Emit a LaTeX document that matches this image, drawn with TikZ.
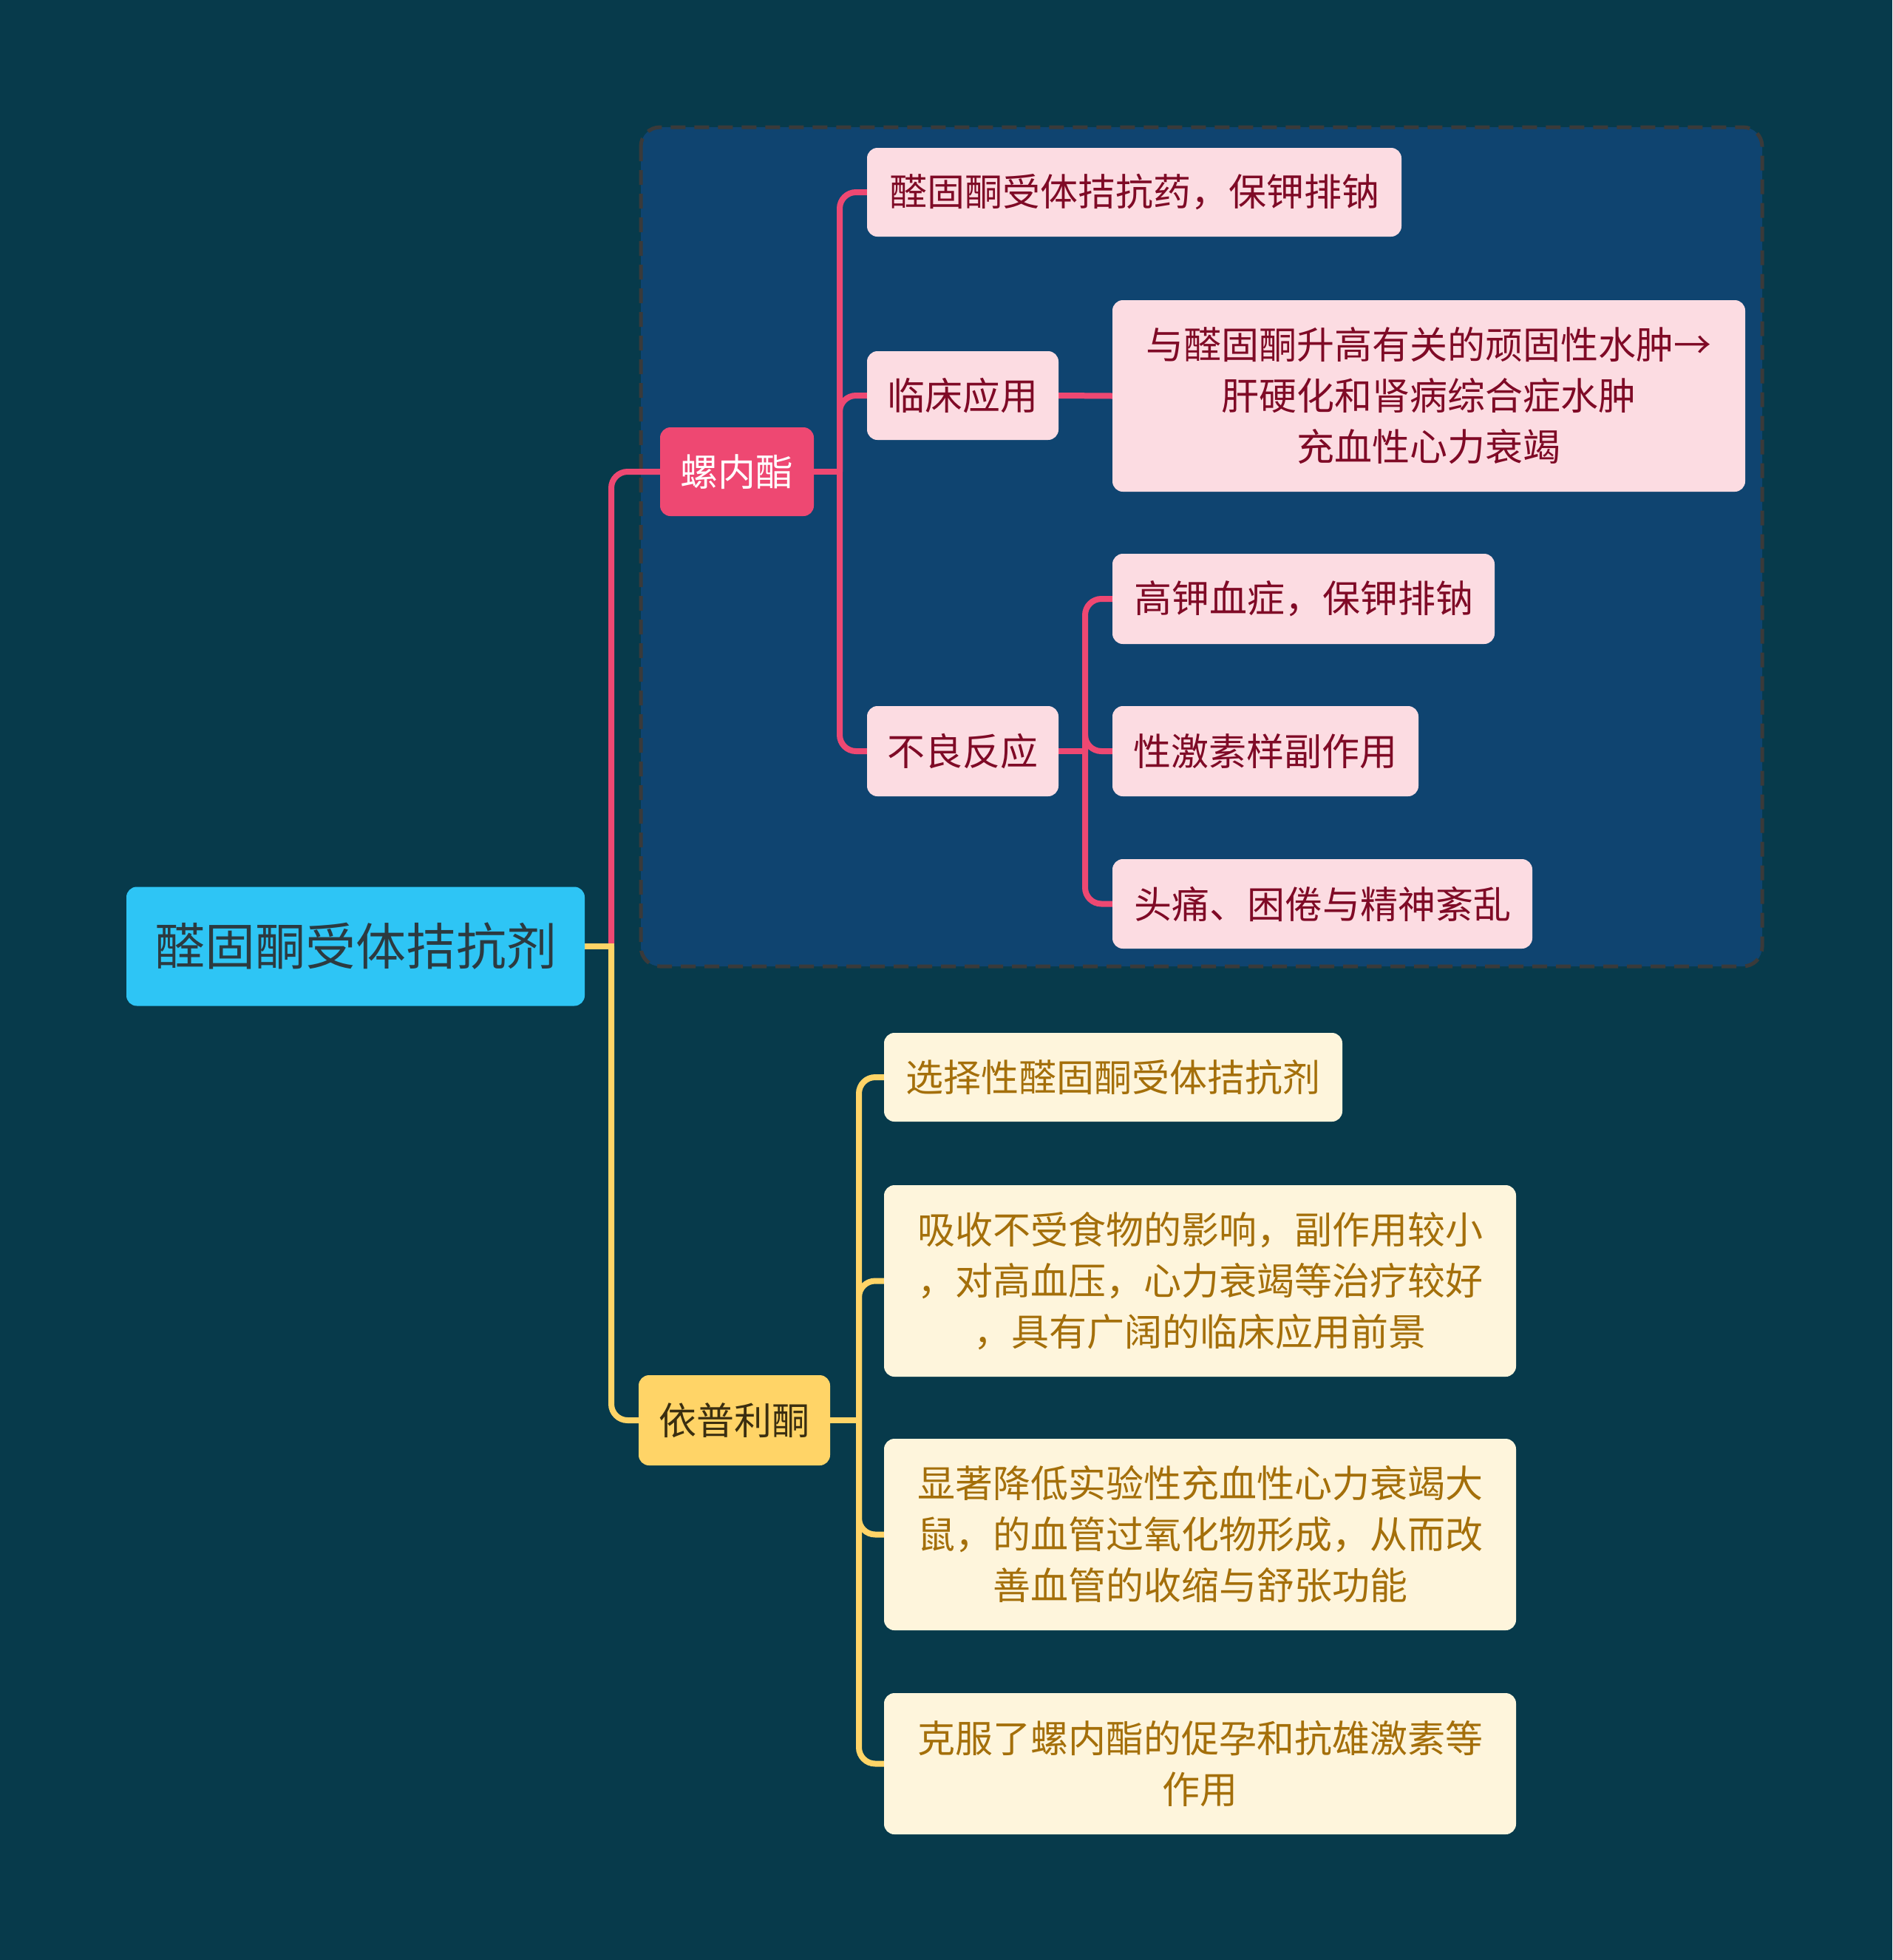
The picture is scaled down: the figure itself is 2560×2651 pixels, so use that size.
\documentclass[tikz,border=0pt]{standalone}
\usepackage{fontspec}
\setmainfont{Noto Sans CJK SC}
\definecolor{bgc}{HTML}{073A4B}
\definecolor{groupc}{HTML}{0F4470}
\definecolor{dashc}{HTML}{3A3A3A}
\definecolor{rootc}{HTML}{2EC5F5}
\definecolor{roottext}{HTML}{2C3A40}
\definecolor{redc}{HTML}{EE4872}
\definecolor{pinkfill}{HTML}{FCDCE2}
\definecolor{pinktext}{HTML}{7F0A26}
\definecolor{yelc}{HTML}{FFD467}
\definecolor{yelfill}{HTML}{FEF5DC}
\definecolor{yeltext}{HTML}{A46F0A}
\definecolor{yelnodetext}{HTML}{3A2E10}
\pgfdeclarelayer{back}
\pgfdeclarelayer{mid}
\pgfsetlayers{back,mid,main}
\begin{document}
\begin{tikzpicture}[x=1pt,y=-1pt,
  box/.style={rounded corners=14pt, inner sep=0pt, align=center, font=\fontsize{51}{69}\selectfont},
  pinkleaf/.style={box, fill=pinkfill, text=pinktext},
  yelleaf/.style={box, fill=yelfill, text=yeltext},
  redline/.style={draw=redc, line width=8pt},
  yelline/.style={draw=yelc, line width=8pt},
  branchr/.style={redline, rounded corners=22pt},
  branchy/.style={yelline, rounded corners=22pt}]
\begin{pgfonlayer}{back}
\fill[bgc] (0,0) rectangle (2560,2651);
\path[use as bounding box] (0,0) rectangle (2560,2651);
\draw[fill=groupc, draw=dashc, line width=5pt, dash pattern=on 20pt off 12pt, rounded corners=26pt] (867,172) rectangle (2384,1307);
\end{pgfonlayer}

% root
\node[box, fill=rootc, text=roottext, minimum width=620pt, minimum height=161pt, font=\fontsize{68}{80}\selectfont] (root) at (481,1280) {醛固酮受体拮抗剂};

% level 1
\node[box, fill=redc, text=white, minimum width=208pt, minimum height=120pt] (lnz) at (997,638) {螺内酯};
\node[box, fill=yelc, text=yelnodetext, minimum width=259pt, minimum height=122pt] (ypl) at (993.5,1921) {依普利酮};

% spironolactone branch
\node[pinkleaf, minimum width=723pt, minimum height=120pt] (a1) at (1534.5,260) {醛固酮受体拮抗药，保钾排钠};
\node[pinkleaf, minimum width=259pt, minimum height=120pt] (a2) at (1302.5,535) {临床应用};
\node[pinkleaf, minimum width=856pt, minimum height=259pt] (a2c) at (1933,535.5) {与醛固酮升高有关的顽固性水肿→\\肝硬化和肾病综合症水肿\\充血性心力衰竭};
\node[pinkleaf, minimum width=259pt, minimum height=122pt] (a3) at (1302.5,1016) {不良反应};
\node[pinkleaf, minimum width=517pt, minimum height=122pt] (b1) at (1763.5,810) {高钾血症，保钾排钠};
\node[pinkleaf, minimum width=414pt, minimum height=122pt] (b2) at (1712,1016) {性激素样副作用};
\node[pinkleaf, minimum width=568pt, minimum height=121pt] (b3) at (1789,1222.5) {头痛、困倦与精神紊乱};

% eplerenone branch
\node[yelleaf, minimum width=620pt, minimum height=120pt] (y1) at (1506,1457) {选择性醛固酮受体拮抗剂};
\node[yelleaf, minimum width=855pt, minimum height=259pt] (y2) at (1623.5,1732.5) {吸收不受食物的影响，副作用较小\\，对高血压，心力衰竭等治疗较好\\，具有广阔的临床应用前景};
\node[yelleaf, minimum width=855pt, minimum height=259pt] (y3) at (1623.5,2075.5) {显著降低实验性充血性心力衰竭大\\鼠，的血管过氧化物形成，从而改\\善血管的收缩与舒张功能};
\node[yelleaf, minimum width=855pt, minimum height=191pt] (y4) at (1623.5,2385.5) {克服了螺内酯的促孕和抗雄激素等\\作用};

% stem coordinates
\coordinate (s0) at (827,1280);
\coordinate (s1) at (1136,638);
\coordinate (s2) at (1468,1016);
\coordinate (s3) at (1162,1921);

\begin{pgfonlayer}{mid}
% root connectors
\draw[branchr] (s0) |- (lnz.west);
\draw[branchy] (s0) |- (ypl.west);
\draw[yelline, line cap=rect] (root.east) -- (s0);
% spironolactone
\draw[redline, line cap=rect] (lnz.east) -- (s1);
\draw[branchr] (s1) |- (a1.west);
\draw[branchr] (s1) |- (a2.west);
\draw[branchr] (s1) |- (a3.west);
\draw[redline] (a2.east) -- (a2c.west);
\draw[redline, line cap=rect] (a3.east) -- (s2);
\draw[branchr] (s2) |- (b1.west);
\draw[branchr] (s2) |- (b2.west);
\draw[branchr] (s2) |- (b3.west);
% eplerenone
\draw[yelline, line cap=rect] (ypl.east) -- (s3);
\draw[branchy] (s3) |- (y1.west);
\draw[branchy] (s3) |- (y2.west);
\draw[branchy] (s3) |- (y3.west);
\draw[branchy] (s3) |- (y4.west);
\end{pgfonlayer}
\end{tikzpicture}
\end{document}
